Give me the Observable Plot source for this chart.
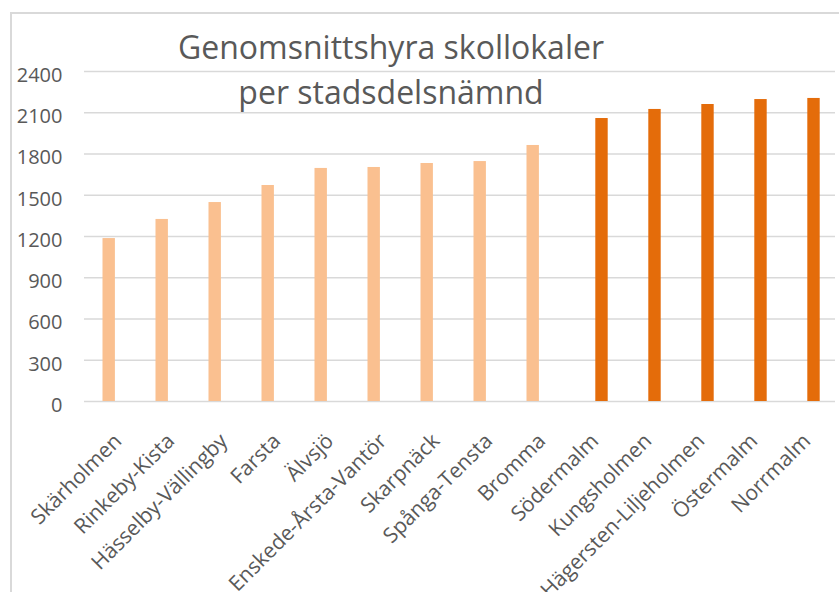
<!DOCTYPE html>
<html>
<head>
<meta charset="utf-8">
<script src="https://cdn.jsdelivr.net/npm/d3@7"></script>
<script src="https://cdn.jsdelivr.net/npm/@observablehq/plot@0.6"></script>
<style>
  html, body { margin: 0; padding: 0; background: #fff; }
  #wrap { position: relative; width: 839px; height: 592px; overflow: hidden; font-family: "Open Sans", sans-serif; }
  #frame { position: absolute; left: 10px; top: 12px; width: 900px; height: 700px; border-left: 2px solid #d9d9d9; border-top: 2px solid #d9d9d9; }
  #title { position: absolute; left: 0; width: 782px; top: 24px; text-align: center; font-size: 32px; line-height: 45px; color: #595959; pointer-events: none; }
  #chart { position: absolute; left: 0; top: 0; }
</style>
</head>
<body>
<div id="wrap">
  <div id="frame"></div>
  <div id="chart"></div>
  <div id="title">Genomsnittshyra skollokaler<br>per stadsdelsnämnd</div>
</div>
<script>
const categories = ["Skärholmen", "Rinkeby-Kista", "Hässelby-Vällingby", "Farsta", "Älvsjö", "Enskede-Årsta-Vantör", "Skarpnäck", "Spånga-Tensta", "Bromma", "Södermalm", "Kungsholmen", "Hägersten-Liljeholmen", "Östermalm", "Norrmalm"];
const values = [1185, 1324, 1447, 1571, 1695, 1702, 1731, 1745, 1862, 2058, 2124, 2160, 2196, 2204];
const series = ["low", "low", "low", "low", "low", "low", "low", "low", "low", "high", "high", "high", "high", "high"];
const yTicks = [0, 300, 600, 900, 1200, 1500, 1800, 2100, 2400];
const colors = {low: "#FAC090", high: "#E46C0A"};

const data = categories.map((c, i) => ({category: c, value: values[i], series: series[i]}));
const low = data.filter(d => d.series === "low");
const high = data.filter(d => d.series === "high");

const chart = Plot.plot({
  width: 839,
  height: 592,
  marginLeft: 84,
  marginRight: 4,
  marginTop: 71,
  marginBottom: 191,
  style: {fontFamily: "Open Sans, sans-serif", fontSize: "20px", color: "#595959", background: "transparent"},
  x: {domain: categories, padding: 0, axis: null},
  y: {domain: [0, 2400], axis: null},
  marks: [
    Plot.gridY(yTicks, {stroke: "#d9d9d9", strokeOpacity: 1, strokeWidth: 1.5}),
    Plot.barY(low, {x: "category", y: "value", fill: colors.low, insetLeft: 13.5, insetRight: 27.1}),
    Plot.barY(high, {x: "category", y: "value", fill: colors.high, insetLeft: 29.3, insetRight: 11.3}),
    Plot.axisY({ticks: yTicks, tickFormat: d => String(d), label: null, tickSize: 0, tickPadding: 22, dy: 4, fill: "#595959", fontSize: 20}),
    Plot.axisX({label: null, tickSize: 0, tickRotate: -45, tickPadding: 36, dx: 2, fill: "#595959", fontSize: 21})
  ]
});
document.getElementById("chart").appendChild(chart);
</script>
</body>
</html>
